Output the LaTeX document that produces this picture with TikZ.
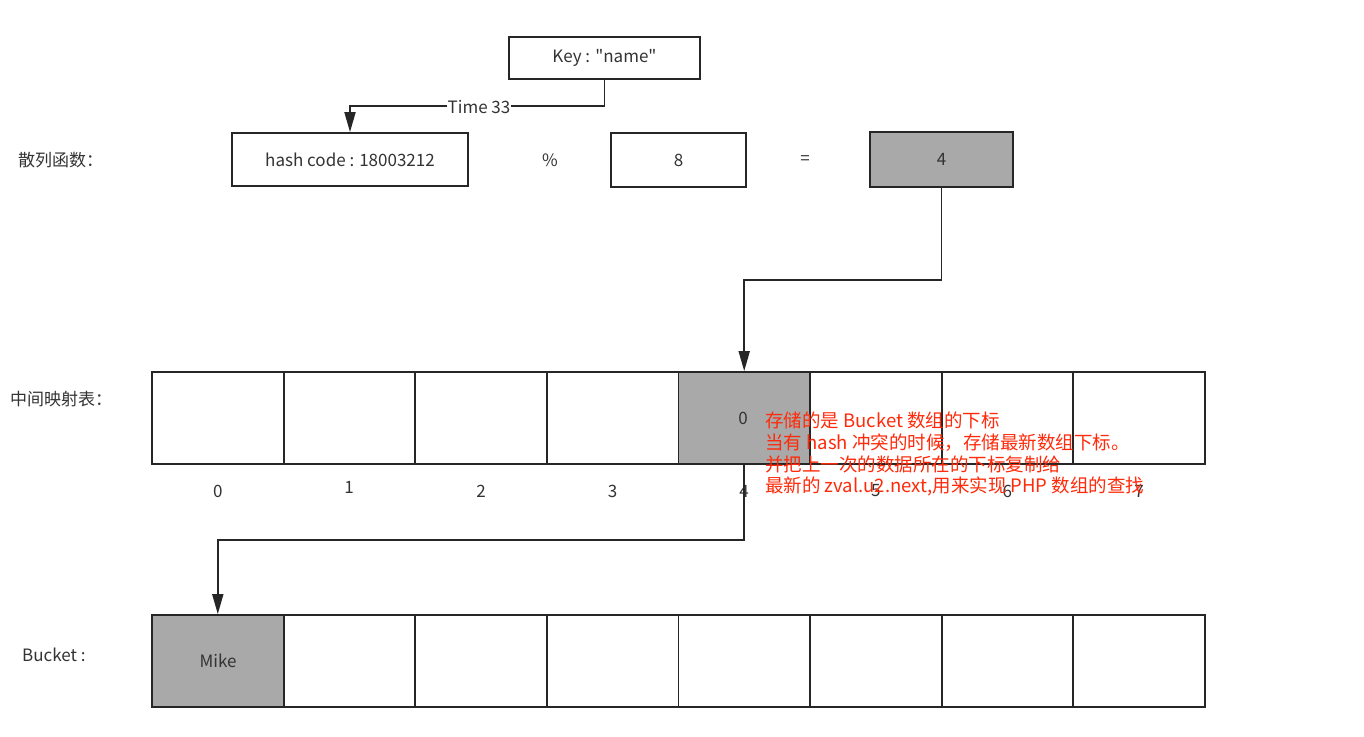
\documentclass[tikz,border=0pt]{standalone}
\usepackage{fontspec}
\setmainfont{Noto Sans CJK SC}
\newfontfamily\rawfont{Noto Sans CJK SC}
\usetikzlibrary{arrows.meta}
\definecolor{ink}{HTML}{333333}
\definecolor{cellgray}{HTML}{A9A9A9}
\definecolor{notered}{HTML}{FF2A0A}
% straight double quote, set without the TeX quote mapping
\newcommand{\sq}{{\rawfont\symbol{34}}}
\begin{document}
\begin{tikzpicture}[x=1pt,y=-1pt,
  txt/.style={text=ink,font=\fontsize{17}{20}\selectfont,inner sep=0pt},
  box/.style={draw=black!85,line width=1.8pt,text=ink,font=\fontsize{17}{20}\selectfont,inner sep=0pt},
  cell/.style={box,minimum width=131.6pt,minimum height=92pt},
  link/.style={draw=black!85,line width=1.8pt,-{Triangle[length=20pt,width=11pt]}}]
  \useasboundingbox[fill=white] (0,0) rectangle (1364,736);

  % hash function row
  \node[box,minimum width=191pt,minimum height=42pt] (key) at (604.5,58) {Key : \sq name\sq};
  \node[box,minimum width=236pt,minimum height=53pt] (hash) at (350,159.5) {hash code : 18003212};
  \node[txt] (mod) at (550,160) {\%};
  \node[box,minimum width=135pt,minimum height=54pt] (eight) at (678.5,160) {8};
  \node[txt] (eq) at (805,160) {=};
  \node[box,fill=cellgray,minimum width=143pt,minimum height=55pt] (four) at (941.5,159.5) {4};
  \node[txt,anchor=west] (lblhash) at (18,160) {散列函数：};

  % intermediate mapping table
  \node[txt,anchor=west] (lblmap) at (10,399) {中间映射表：};
  \foreach \i in {0,...,7}{
    \ifnum\i=4
      \node[cell,fill=cellgray] (m\i) at ({152+65.8+131.6*\i},418) {};
    \else
      \node[cell] (m\i) at ({152+65.8+131.6*\i},418) {};
    \fi
  }
  \node[txt] (mval) at (743,418) {0};
  \foreach \i in {0,2,3,4,5,6,7}{
    \node[txt] (idx\i) at ({152+65.8+131.6*\i},491) {\i};
  }
  \node[txt] (idx1) at (349,487) {1};

  % bucket array
  \node[txt,anchor=west] (lblbucket) at (22,655) {Bucket :};
  \foreach \i in {0,...,7}{
    \ifnum\i=0
      \node[cell,fill=cellgray] (b\i) at ({152+65.8+131.6*\i},661) {};
    \else
      \node[cell] (b\i) at ({152+65.8+131.6*\i},661) {};
    \fi
  }
  \node[txt] (mike) at (218,661) {Mike};

  % connectors
  \draw[link] (key.south) -- ++(0,26) coordinate (kturn) -| (hash.north);
  \node[txt,fill=white,inner xsep=1pt,inner ysep=1pt] (time) at (479,107) {Time 33};
  \draw[link] (four.south) -- ++(0,92) -| (m4.north);
  \draw[link] (m4.south) -- ++(0,75) -| (b0.north);

  % note on the mapping table
  \node[anchor=north west,align=left,text=notered,inner sep=0pt,
        font=\fontsize{18.5}{21.7}\selectfont] (note) at (765,412)
    {存储的是 Bucket 数组的下标\\
     当有 hash 冲突的时候，存储最新数组下标。\\
     并把上一次的数据所在的下标复制给\\
     最新的 zval.u2.next,用来实现 PHP 数组的查找};
\end{tikzpicture}
\end{document}
